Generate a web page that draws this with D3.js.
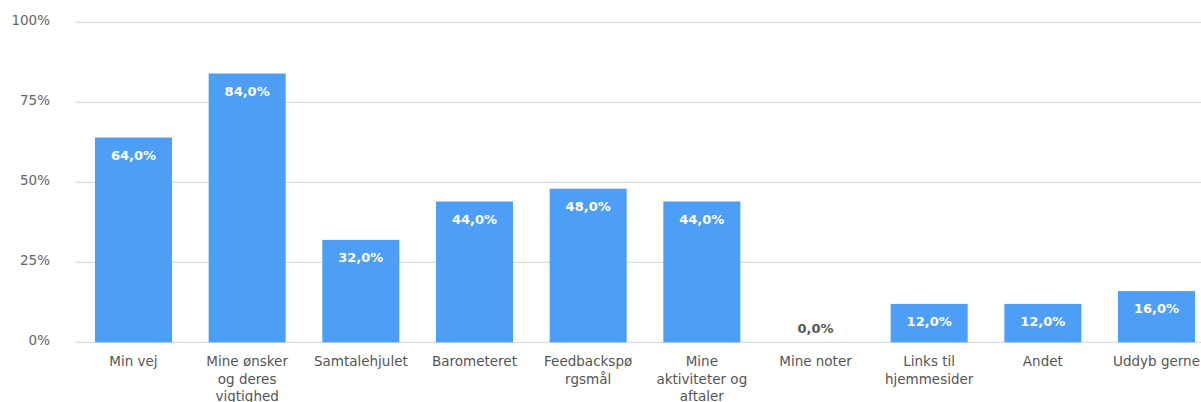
<!DOCTYPE html>
<html>
<head>
<meta charset="utf-8">
<script src="https://cdn.jsdelivr.net/npm/d3@7"></script>
<style>
  html, body { margin: 0; padding: 0; background: #fff; }
  svg { display: block; font-family: "DejaVu Sans", Verdana, sans-serif; }
</style>
</head>
<body>
<svg id="chart" width="1201" height="402"></svg>
<script>
const categories = [
  "Min vej",
  "Mine ønsker\nog deres\nvigtighed",
  "Samtalehjulet",
  "Barometeret",
  "Feedbackspø\nrgsmål",
  "Mine\naktiviteter og\naftaler",
  "Mine noter",
  "Links til\nhjemmesider",
  "Andet",
  "Uddyb gerne"
];
const values = [64, 84, 32, 44, 48, 44, 0, 12, 12, 16];
const yTicks = [0, 25, 50, 75, 100];

const svg = d3.select("#chart");
const x = d3.scaleBand().domain(categories).range([76.8, 1213.2]).paddingInner(0.3226).paddingOuter(0.16);
const y = d3.scaleLinear().domain([0, 100]).range([342.3, 22.3]);

// gridlines
svg.append("g").selectAll("line").data(yTicks).join("line")
  .attr("x1", 75).attr("x2", 1201)
  .attr("y1", d => y(d)).attr("y2", d => y(d))
  .attr("stroke", "#dcdcdc").attr("stroke-width", 1.2);

// y axis labels
const yAxis = d3.axisLeft(y).tickValues(yTicks).tickFormat(d => d + "%").tickSize(0).tickPadding(0);
const ya = svg.append("g").attr("transform", "translate(50,-2.5)").call(yAxis);
ya.select(".domain").remove();
ya.selectAll("text").attr("fill", "#666").attr("font-size", 13.5).attr("font-family", "DejaVu Sans, Verdana, sans-serif");

// bars
svg.append("g").selectAll("rect").data(values).join("rect")
  .attr("x", (d, i) => x(categories[i]))
  .attr("width", x.bandwidth())
  .attr("y", d => y(d))
  .attr("height", d => y(0) - y(d))
  .attr("fill", "#4d9ef6");

// value labels
const fmt = v => v.toFixed(1).replace(".", ",") + "%";
svg.append("g").selectAll("text").data(values).join("text")
  .attr("x", (d, i) => x(categories[i]) + x.bandwidth() / 2)
  .attr("y", d => d > 0 ? y(d) + 22 : y(0) - 9)
  .attr("text-anchor", "middle")
  .attr("font-size", 13)
  .attr("font-weight", "bold")
  .attr("fill", d => d > 0 ? "#ffffff" : "#555")
  .text(d => fmt(d));

// x labels
const xl = svg.append("g").selectAll("text").data(categories).join("text")
  .attr("x", d => x(d) + x.bandwidth() / 2)
  .attr("y", 366)
  .attr("text-anchor", "middle")
  .attr("font-size", 13.5)
  .attr("fill", "#555");
xl.each(function(d) {
  const t = d3.select(this);
  d.split("\n").forEach((line, i) => {
    t.append("tspan").attr("x", t.attr("x")).attr("dy", i === 0 ? 0 : 17.5).text(line);
  });
});
</script>
</body>
</html>
